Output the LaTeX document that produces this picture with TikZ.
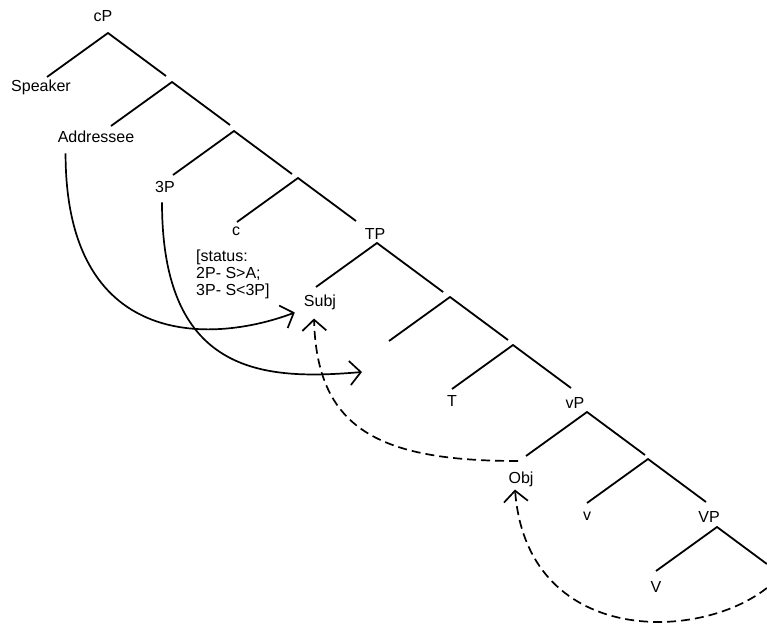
\documentclass[tikz,border=0pt]{standalone}
\usepackage{fontspec}
\setmainfont{Liberation Sans}
\usetikzlibrary{arrows.meta}
\tikzset{
  branch/.style={line width=1.8pt},
  lbl/.style={anchor=base,inner sep=1pt,font=\fontsize{16}{17}\selectfont},
  move/.style={line width=1.7pt,-{Straight Barb[length=11pt,width=24pt]}},
  trace/.style={move,dash pattern=on 9pt off 5pt},
}
\newcommand{\TreeSplit}[4][1]{% [right length] name x y
\coordinate (#2) at (#3,#4);
\coordinate (#2l) at (#3-61,#4+44);
\coordinate (#2r) at (#3+58*#1,#4+43*#1);
\draw[branch] (#2l) -- (#2) -- (#2r);
}

\begin{document}
\begin{tikzpicture}[x=1pt,y=-1pt]
\useasboundingbox (0,0) rectangle (767,627);
% labels (at their baselines)
\node[lbl] (cP) at (103,21) {cP};
\node[lbl] (Speaker) at (41,91) {Speaker};
\node[lbl] (Addressee) at (96,142) {Addressee};
\node[lbl] (thirdP) at (165,192) {3P};
\node[lbl] (cHead) at (236,235) {c};
\node[lbl] (TP) at (375,239) {TP};
\node[lbl] (Subj) at (320,306) {Subj};
\node[lbl] (Thead) at (452,406) {T};
\node[lbl] (vP) at (575,408) {vP};
\node[lbl] (Obj) at (521,483) {Obj};
\node[lbl] (vHead) at (587,520) {v};
\node[lbl] (VP) at (709,522) {VP};
\node[lbl] (Vhead) at (656,592) {V};
\node[lbl,anchor=north west,inner sep=0pt,align=left] (status) at (196,250)
  {[status:\\2P- S>A;\\3P- S<3P]};
\coordinate (emptySpec) at (362,372);

% spine of the tree
\TreeSplit{b0}{108}{33}
\TreeSplit{b1}{172}{82}
\TreeSplit{b2}{234}{131}
\TreeSplit{b3}{298}{178}
\TreeSplit[1.14]{b4}{377}{243}
\TreeSplit{b5}{450}{297}
\TreeSplit{b6}{513}{345}
\TreeSplit{b7}{587}{412}
\TreeSplit{b8}{648}{459}
\TreeSplit[0.86]{b9}{717}{527}

% agreement arrows
\draw[move] ([shift={(9,10)}]Addressee.south west)
  .. controls +(0,195) and +(-85,32) .. ([shift={(-8,2)}]Subj.south west);
\draw[move] ([shift={(-3,9)}]thirdP.south)
  .. controls +(0,175) and +(-95,8) .. (emptySpec);

% movement (dashed)
\draw[trace] ([shift={(-8,5)}]b7l)
  .. controls +(-140,0) and +(3,110) .. ([shift={(-6,8)}]Subj.south);
\draw[trace] ([shift={(0,24)}]b9r)
  .. controls +(-70,55) and +(12,155) .. ([shift={(-6,2)}]Obj.south);
\end{tikzpicture}
\end{document}
